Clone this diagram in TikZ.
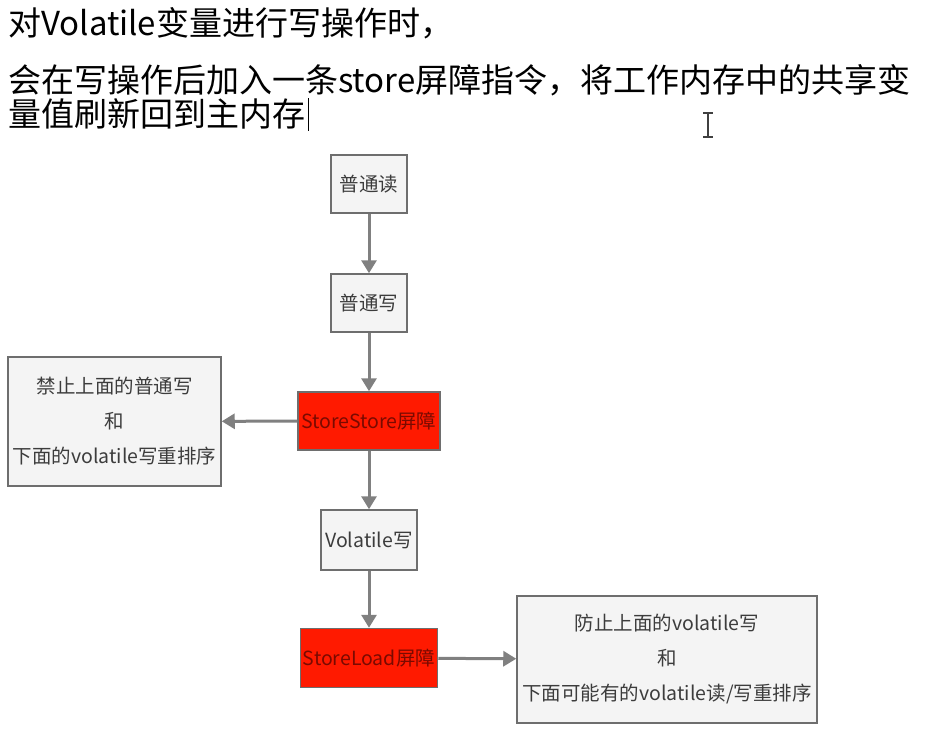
\documentclass[tikz,border=0pt]{standalone}
\usepackage{fontspec}
\setmainfont{Noto Sans CJK SC}
\usetikzlibrary{arrows.meta}
\definecolor{boxfill}{HTML}{F4F4F4}
\definecolor{boxline}{HTML}{6E6E6E}
\definecolor{flow}{HTML}{808080}
\definecolor{barrier}{HTML}{FF1A00}
\definecolor{barriertext}{HTML}{7A0A00}
\definecolor{boxtext}{HTML}{3C3C3C}
\tikzset{
  plainbox/.style={draw=boxline, line width=1.5pt, fill=boxfill, inner sep=0pt,
    text=boxtext, font=\fontsize{19.5}{26}\selectfont, align=center},
  barrierbox/.style={plainbox, fill=barrier, text=barriertext},
  flowarrow/.style={draw=flow, line width=3pt, -{Triangle[width=15pt,length=13pt]}},
  headline/.style={anchor=west, inner sep=0pt, font=\fontsize{33}{38}\selectfont}
}
\begin{document}
\begin{tikzpicture}[x=1pt,y=-1pt]
\useasboundingbox[fill=white] (0,0) rectangle (939,739);

% heading text
\node[headline] (h1) at (8,23) {对Volatile变量进行写操作时，};
\node[headline] (h2) at (8,80) {会在写操作后加入一条store屏障指令，将工作内存中的共享变};
\node[headline] (h3) at (8,114) {量值刷新回到主内存};
% text caret and mouse I-beam
\draw[line width=1.2pt] (h3.east) ++(3,-16) -- ++(0,33);
\coordinate (ibeam) at (708,125);
\draw[line width=1.6pt, draw=black!75] ([yshift=-12pt]ibeam) -- ([yshift=12pt]ibeam)
  ([xshift=-5pt,yshift=-12pt]ibeam) -- ([xshift=5pt,yshift=-12pt]ibeam)
  ([xshift=-5pt,yshift=12pt]ibeam) -- ([xshift=5pt,yshift=12pt]ibeam);

% flow boxes
\node[plainbox, minimum width=76pt, minimum height=58pt] (read) at (369,184) {普通读};
\node[plainbox, minimum width=76pt, minimum height=58pt] (write) at (369,303) {普通写};
\node[barrierbox, minimum width=142pt, minimum height=58pt] (ss) at (369,421) {StoreStore屏障};
\node[plainbox, minimum width=213pt, minimum height=129pt] (ssnote) at (114.5,421.5)
  {禁止上面的普通写\\[9pt]和\\[9pt]下面的volatile写重排序};
\node[plainbox, minimum width=96pt, minimum height=60pt] (vw) at (369,540) {Volatile写};
\node[barrierbox, minimum width=137pt, minimum height=59pt] (sl) at (369,658) {StoreLoad屏障};
\node[plainbox, minimum width=300pt, minimum height=127pt] (slnote) at (667,659.5)
  {防止上面的volatile写\\[9pt]和\\[9pt]下面可能有的volatile读/写重排序};

% connectors
\draw[flowarrow] (read) -- (write);
\draw[flowarrow] (write) -- (ss);
\draw[flowarrow] (ss) -- (ssnote);
\draw[flowarrow] (ss) -- (vw);
\draw[flowarrow] (vw) -- (sl);
\draw[flowarrow] (sl) -- (slnote);
\end{tikzpicture}
\end{document}
